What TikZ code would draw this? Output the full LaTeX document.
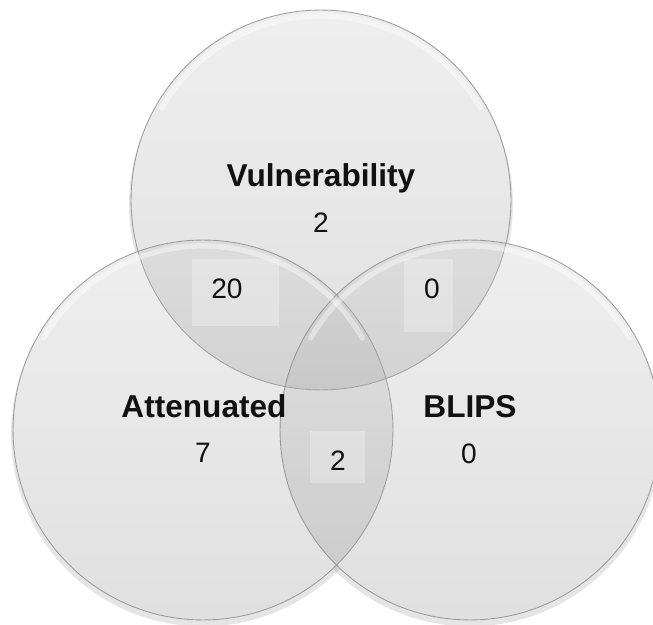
\documentclass[tikz,border=0pt]{standalone}
\usepackage{fontspec}
\setmainfont{Liberation Sans}
\usepackage{xcolor}
\usetikzlibrary{backgrounds}
\definecolor{ink}{HTML}{111111}
\definecolor{rim}{HTML}{8a8a8a}
\definecolor{settop}{HTML}{c4c4c4}
\definecolor{setbot}{HTML}{8e8e8e}

\begin{document}
\begin{tikzpicture}[x=0.02cm,y=-0.02cm,
  set/.style={circle,minimum size=7.6cm,inner sep=0pt,top color=settop,bottom color=setbot,
    fill opacity=.27,draw=rim,draw opacity=.8,line width=.5pt},
  tag/.style={inner sep=0pt,fill=white,fill opacity=.28,draw=none},
  title/.style={anchor=base,font=\fontsize{18}{21}\selectfont\bfseries,text=ink},
  count/.style={anchor=base,font=\fontsize{16}{19}\selectfont,text=ink},
  gloss/.style={white,line width=3pt,opacity=.4,line cap=round}]
  \useasboundingbox (0,0) rectangle (653,625);

  % the three sets
  \node[set] (setV) at (321,200) {};
  \node[set] (setA) at (203,430) {};
  \node[set] (setB) at (470,430) {};

  % shadows and white under-discs
  \begin{scope}[on background layer]
    \foreach \s in {setV,setA,setB}
      \fill[black,opacity=.10] ([yshift=-2.5pt]\s.center) circle[radius=3.84cm];
    \foreach \s in {setV,setA,setB}
      \fill[white] (\s.center) circle[radius=3.8cm];
  \end{scope}

  % top highlight rims
  \foreach \s in {setV,setA,setB}
    \draw[gloss] (\s.center) ++(30:3.68cm) arc[start angle=30,end angle=150,radius=3.68cm];

  % number tags
  \node[tag,minimum width=1.74cm,minimum height=1.34cm] (tagVA) at (235.5,292.5) {};
  \node[tag,minimum width=0.98cm,minimum height=1.46cm] (tagVB) at (428.5,295.5) {};
  \node[tag,minimum width=1.10cm,minimum height=1.04cm] (tagAB) at (337.5,457) {};

  % labels
  \node[title] (vul) at (321,187) {Vulnerability};
  \node[count] (vulN) at (321,233) {2};
  \node[title] (att) at (204,417) {Attenuated};
  \node[count] (attN) at (203,462) {7};
  \node[title] (blips) at (470,417) {BLIPS};
  \node[count] (blipsN) at (469,463) {0};
  \node[count] (vaN) at (227,298) {20};
  \node[count] (vbN) at (432,298) {0};
  \node[count] (abN) at (338,470) {2};
\end{tikzpicture}
\end{document}
